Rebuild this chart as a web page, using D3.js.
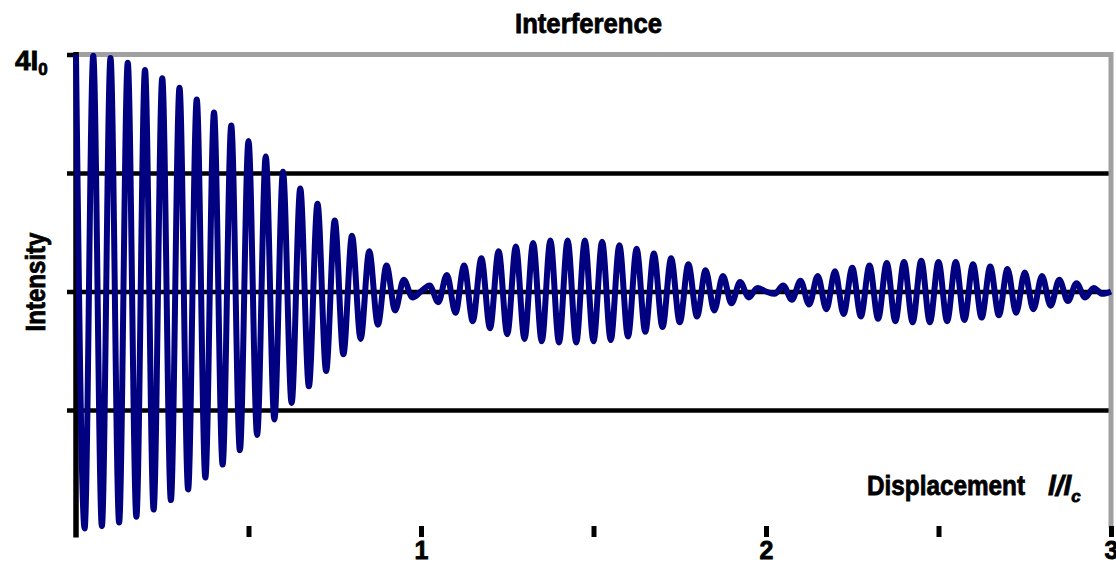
<!DOCTYPE html>
<html>
<head>
<meta charset="utf-8">
<script src="https://cdn.jsdelivr.net/npm/d3@7"></script>
<style>
  html, body { margin: 0; padding: 0; background: #fff; }
  svg { display: block; }
  .lbl { font-family: "Liberation Sans Narrow", "Arial Narrow", "Liberation Sans", Arial, sans-serif; font-weight: bold; fill: #000; stroke: #000; stroke-width: 0.8px; }
</style>
</head>
<body>
<svg id="chart" width="1116" height="569"></svg>
<script>
// Intensity at each successive peak / trough of the fringe pattern,
// read off the picture (one value every half fringe along the displacement axis)
var displacementStep = 0.025;

var centralLobe = [
  4.00, 0.00, 3.99, 0.02, 3.97, 0.05, 3.93, 0.10, 3.87, 0.16,
  3.80, 0.24, 3.72, 0.33, 3.62, 0.43, 3.51, 0.54, 3.40, 0.66,
  3.27, 0.79, 3.14, 0.92, 3.01, 1.06, 2.87, 1.20, 2.74, 1.33,
  2.60, 1.47, 2.47, 1.60, 2.34, 1.72, 2.22, 1.84, 2.10, 1.95
];
var secondLobe = [
  2.00, 2.05, 1.91, 2.14, 1.82, 2.22, 1.75, 2.28, 1.69, 2.34,
  1.64, 2.38, 1.60, 2.41, 1.58, 2.43, 1.57, 2.43, 1.57, 2.43,
  1.58, 2.42, 1.59, 2.39, 1.62, 2.36, 1.66, 2.32, 1.70, 2.28,
  1.74, 2.23, 1.79, 2.18, 1.84, 2.13, 1.90, 2.08, 1.95, 2.03
];
var thirdLobe = [
  2.00, 1.98, 2.05, 1.93, 2.09, 1.89, 2.13, 1.85, 2.17, 1.81,
  2.20, 1.79, 2.22, 1.77, 2.24, 1.75, 2.25, 1.74, 2.26, 1.74,
  2.25, 1.75, 2.25, 1.76, 2.23, 1.78, 2.21, 1.80, 2.19, 1.82,
  2.16, 1.85, 2.13, 1.88, 2.10, 1.92, 2.07, 1.95, 2.03, 1.98,
  2.00
];

var xTicks = [0.5, 1, 1.5, 2, 2.5, 3];
var yTicks = [1, 2, 3, 4];

var svg, x, y, line, points, xAxis, yAxis, grid;

svg = d3.select('#chart');

x = d3.scaleLinear().domain([0, 3]).range([76, 1111]);
y = d3.scaleLinear().domain([0, 4]).range([528.5, 54.5]);

points = centralLobe.concat(secondLobe, thirdLobe).map(function (v, i) {
  return {d: i * displacementStep, I: v};
});

// Horizontal gridlines
grid = svg.append('g')
  .attr('transform', 'translate(76,0)')
  .call(d3.axisLeft(y).tickValues([1, 2, 3]).tickSize(-1035).tickFormat(''));
grid.select('.domain').remove();
grid.selectAll('.tick line')
  .attr('stroke', '#000')
  .attr('stroke-width', 4.5);

// Plot border (top and right), grey
svg.append('path')
  .attr('d', 'M' + x(0) + ',' + y(4) + 'H' + x(3) + 'V' + (y(0) - 1))
  .attr('fill', 'none')
  .attr('stroke', '#a0a0a0')
  .attr('stroke-width', 5);

// Y axis with short ticks to the left
yAxis = svg.append('g')
  .attr('transform', 'translate(76,0)')
  .call(d3.axisLeft(y).tickValues(yTicks).tickSize(9).tickFormat(''));
yAxis.select('.domain').remove();
yAxis.selectAll('.tick line')
  .attr('stroke', '#000')
  .attr('stroke-width', 4.5);
yAxis.append('line')
  .attr('x1', 0).attr('x2', 0)
  .attr('y1', y(4) - 2.5).attr('y2', y(0) + 9)
  .attr('stroke', '#000')
  .attr('stroke-width', 5.5);

// X axis: ticks only, no axis line
xAxis = svg.append('g')
  .attr('transform', 'translate(0,526)')
  .call(d3.axisBottom(x).tickValues(xTicks).tickSize(11).tickPadding(4)
    .tickFormat(function (d) { return Number.isInteger(d) ? d : ''; }));
xAxis.select('.domain').remove();
xAxis.selectAll('.tick line')
  .attr('stroke', '#000')
  .attr('stroke-width', 5);
xAxis.selectAll('.tick text')
  .attr('class', 'lbl')
  .attr('font-size', 25)
  .attr('font-family', null);

// Fringe curve
line = d3.line()
  .x(function (p) { return x(p.d); })
  .y(function (p) { return y(p.I); })
  .curve(d3.curveMonotoneX);

svg.append('path')
  .datum(points)
  .attr('d', line)
  .attr('fill', 'none')
  .attr('stroke', '#000080')
  .attr('stroke-width', 6)
  .attr('stroke-linejoin', 'round');

// Texts
svg.append('text')
  .attr('class', 'lbl')
  .attr('x', 515).attr('y', 33)
  .attr('font-size', 28)
  .attr('textLength', 147)
  .attr('lengthAdjust', 'spacingAndGlyphs')
  .text('Interference');

svg.append('text')
  .attr('class', 'lbl')
  .attr('transform', 'translate(45,282) rotate(-90)')
  .attr('text-anchor', 'middle')
  .attr('font-size', 28)
  .attr('textLength', 99)
  .attr('lengthAdjust', 'spacingAndGlyphs')
  .text('Intensity');

svg.append('text')
  .attr('class', 'lbl')
  .attr('x', 867).attr('y', 495)
  .attr('font-size', 28)
  .attr('textLength', 158)
  .attr('lengthAdjust', 'spacingAndGlyphs')
  .text('Displacement');

var ratio = svg.append('text')
  .attr('class', 'lbl')
  .attr('x', 1048).attr('y', 495)
  .attr('font-size', 28)
  .attr('font-style', 'italic');
ratio.append('tspan').text('l/l');
ratio.append('tspan').attr('dy', 7).attr('font-size', 17).text('c');

var imax = svg.append('text')
  .attr('class', 'lbl')
  .attr('x', 15).attr('y', 70)
  .attr('font-size', 28);
imax.append('tspan').text('4I');
imax.append('tspan').attr('dy', 5).attr('font-size', 17).text('0');
</script>
</body>
</html>
